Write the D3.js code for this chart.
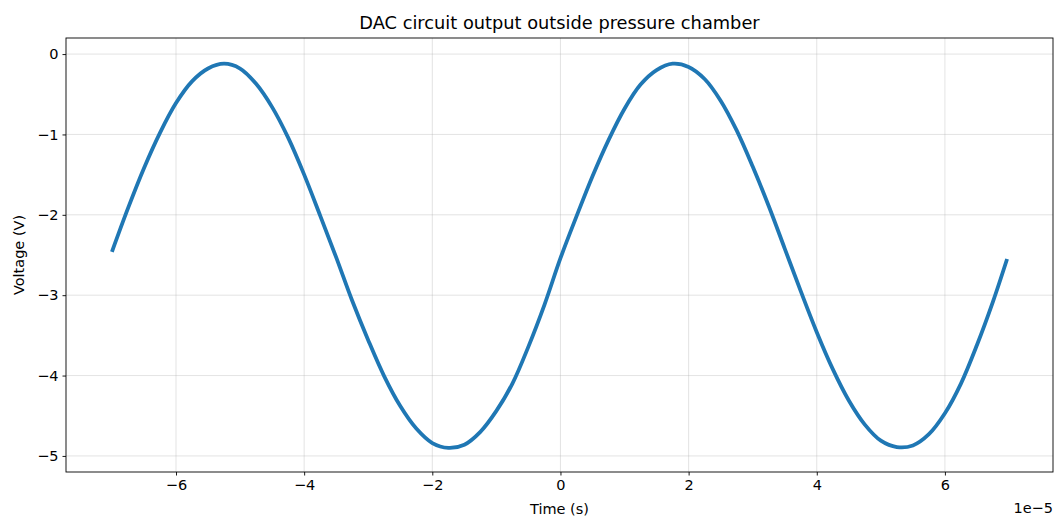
<!DOCTYPE html>
<html>
<head>
<meta charset="utf-8">
<script src="https://cdn.jsdelivr.net/npm/d3@7"></script>
<style>
  body { margin: 0; background: #fff; }
  text { font-family: "DejaVu Sans", sans-serif; fill: #000; }
  .grid line { stroke: #b0b0b0; stroke-opacity: 0.35; }
</style>
</head>
<body>
<div id="chart"></div>
<script>
// time in units of 1e-5 s, every 0.25
const times = [-7.0, -6.75, -6.5, -6.25, -6.0, -5.75, -5.5, -5.25, -5.0, -4.75, -4.5, -4.25,
  -4.0, -3.75, -3.5, -3.25, -3.0, -2.75, -2.5, -2.25, -2.0, -1.75, -1.5, -1.25,
  -1.0, -0.75, -0.5, -0.25, 0.0, 0.25, 0.5, 0.75, 1.0, 1.25, 1.5, 1.75,
  2.0, 2.25, 2.5, 2.75, 3.0, 3.25, 3.5, 3.75, 4.0, 4.25, 4.5, 4.75,
  5.0, 5.25, 5.5, 5.75, 6.0, 6.25, 6.5, 6.75, 6.97];
const volts = [-2.46, -1.92, -1.42, -0.98, -0.61, -0.34, -0.18, -0.12, -0.18, -0.37, -0.66, -1.04,
  -1.50, -2.01, -2.53, -3.07, -3.56, -4.01, -4.38, -4.66, -4.84, -4.90, -4.86, -4.70,
  -4.44, -4.10, -3.64, -3.12, -2.54, -2.02, -1.52, -1.07, -0.68, -0.38, -0.20, -0.12,
  -0.16, -0.31, -0.58, -0.95, -1.40, -1.89, -2.42, -2.95, -3.46, -3.92, -4.31, -4.61,
  -4.81, -4.89, -4.87, -4.73, -4.47, -4.10, -3.62, -3.08, -2.55];
const xTicks = [-6, -4, -2, 0, 2, 4, 6];
const yTicks = [0, -1, -2, -3, -4, -5];

const width = 1056, height = 519,
    margin = ({ top: 38, right: 3, bottom: 47, left: 66 });

const data = times.map((t, i) => ({ t: t, v: volts[i] }));
const minus = d => String(d).replace("-", "\u2212");

const svg = d3.select("#chart")
    .append("svg")
    .attr("width", width)
    .attr("height", height);

let x = d3.scaleLinear()
    .domain([-7.7167, 7.6867]) // matplotlib 5% margins
    .range([margin.left, width - margin.right]);

let y = d3.scaleLinear()
    .domain([-5.2, 0.2])
    .range([height - margin.bottom, margin.top]);

// grid
svg.append("g")
    .attr("class", "grid")
    .selectAll("line")
    .data(xTicks)
    .join("line")
    .attr("x1", d => x(d)).attr("x2", d => x(d))
    .attr("y1", margin.top).attr("y2", height - margin.bottom);

svg.append("g")
    .attr("class", "grid")
    .selectAll("line")
    .data(yTicks)
    .join("line")
    .attr("x1", margin.left).attr("x2", width - margin.right)
    .attr("y1", d => y(d)).attr("y2", d => y(d));

let line = d3.line()
    .x(d => x(d.t))
    .y(d => y(d.v))
    .curve(d3.curveCatmullRom);

svg.append("path")
    .datum(data)
    .attr("d", line)
    .attr("fill", "none")
    .attr("stroke", "#1f77b4")
    .attr("stroke-width", 3.8)
    .attr("stroke-linejoin", "round");

// axes
const xAxis = svg.append("g")
    .attr("transform", `translate(0,${height - margin.bottom})`)
    .call(d3.axisBottom(x).tickValues(xTicks).tickSize(3.5).tickPadding(4).tickFormat(minus));

const yAxis = svg.append("g")
    .attr("transform", `translate(${margin.left},0)`)
    .call(d3.axisLeft(y).tickValues(yTicks).tickSize(3.5).tickPadding(4).tickFormat(minus));

for (const a of [xAxis, yAxis]) {
    a.select(".domain").remove();
    a.selectAll("text").attr("font-size", 14.5).attr("font-family", "DejaVu Sans");
    a.selectAll("line").attr("stroke", "#000").attr("stroke-width", 0.9);
}

// frame
svg.append("rect")
    .attr("x", margin.left)
    .attr("y", margin.top)
    .attr("width", width - margin.right - margin.left)
    .attr("height", height - margin.bottom - margin.top)
    .attr("fill", "none")
    .attr("stroke", "#000")
    .attr("stroke-width", 0.9);

svg.append("text")
    .attr("x", (margin.left + width - margin.right) / 2)
    .attr("y", 29)
    .attr("text-anchor", "middle")
    .attr("font-size", 17.8)
    .text("DAC circuit output outside pressure chamber");

svg.append("text")
    .attr("x", (margin.left + width - margin.right) / 2)
    .attr("y", 514)
    .attr("text-anchor", "middle")
    .attr("font-size", 14.5)
    .text("Time (s)");

svg.append("text")
    .attr("transform", `translate(24,${(margin.top + height - margin.bottom) / 2}) rotate(-90)`)
    .attr("text-anchor", "middle")
    .attr("font-size", 14.5)
    .text("Voltage (V)");

svg.append("text")
    .attr("x", width - margin.right)
    .attr("y", 513)
    .attr("text-anchor", "end")
    .attr("font-size", 14.5)
    .text("1e\u22125");
</script>
</body>
</html>
